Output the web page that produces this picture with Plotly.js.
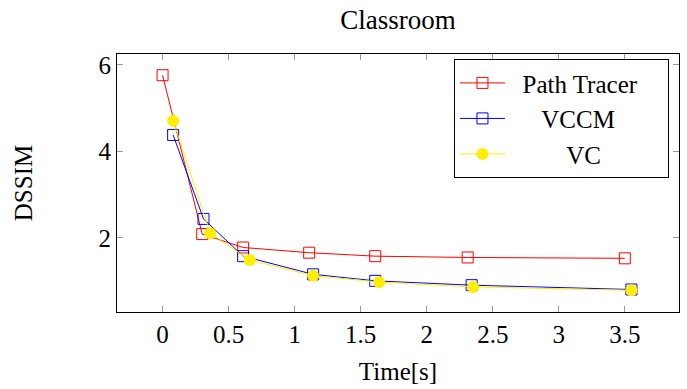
<!DOCTYPE html>
<html>
<head>
<meta charset="utf-8">
<script src="https://cdn.plot.ly/plotly-3.0.1.min.js"></script>
<style>html,body{margin:0;padding:0;background:#fff;}#chart{width:687px;height:389px;}</style>
</head>
<body>
<div id="chart"></div>
<script>
const ptTime = [0.0, 0.30, 0.61, 1.11, 1.61, 2.31, 3.50];
const ptDssim = [5.76, 2.09, 1.78, 1.66, 1.58, 1.55, 1.53];
const vccmTime = [0.08, 0.31, 0.61, 1.14, 1.61, 2.34, 3.55];
const vccmDssim = [4.38, 2.44, 1.58, 1.16, 1.01, 0.91, 0.81];
const vcTime = [0.08, 0.36, 0.66, 1.14, 1.64, 2.35, 3.55];
const vcDssim = [4.71, 2.11, 1.49, 1.13, 0.98, 0.87, 0.79];
const NB = "\u00a0";
const seriesNames = [NB.repeat(2) + "Path Tracer" + NB.repeat(4), NB.repeat(5) + "VCCM", NB.repeat(9) + "VC"];
const xTicks = [0, 0.5, 1, 1.5, 2, 2.5, 3, 3.5];
const yTicks = [2, 4, 6];

const font = "Liberation Serif, DejaVu Serif, serif";
const traces = [
  {x: ptTime, y: ptDssim, name: seriesNames[0], mode: "lines+markers",
   line: {color: "#ff0000", width: 1},
   marker: {symbol: "square-open", size: 11, color: "#ff0000", line: {width: 1}}},
  {x: vccmTime, y: vccmDssim, name: seriesNames[1], mode: "lines+markers",
   line: {color: "#0000ff", width: 1},
   marker: {symbol: "square-open", size: 11, color: "#0000ff", line: {width: 1}}},
  {x: vcTime, y: vcDssim, name: seriesNames[2], mode: "lines+markers",
   line: {color: "#ffee00", width: 1},
   marker: {symbol: "circle", size: 12, color: "#ffee00"}}
];
const layout = {
  width: 687, height: 389,
  margin: {l: 117, r: 8, t: 54, b: 77},
  paper_bgcolor: "#fff", plot_bgcolor: "#fff",
  font: {family: font, size: 25, color: "#000"},
  title: {text: "Classroom", xref: "paper", x: 0.5, xanchor: "center", y: 0.95, yanchor: "middle", font: {size: 27}},
  showlegend: true,
  legend: {x: 0.5996, y: 0.98, xanchor: "left", yanchor: "top",
    bordercolor: "#000", borderwidth: 1, bgcolor: "#fff",
    font: {size: 25}, itemwidth: 45, tracegroupgap: 0},
  xaxis: {range: [-0.345, 3.91], tickvals: xTicks, ticktext: xTicks.map(String),
    ticks: "inside", ticklen: 6, tickcolor: "#999", tickwidth: 1,
    showline: true, linecolor: "#000", linewidth: 1, mirror: "allticks",
    showgrid: false, zeroline: false, tickfont: {size: 25},
    title: {text: "Time[s]", standoff: 15, font: {size: 25}}},
  yaxis: {range: [0.29, 6.25], tickvals: yTicks, ticktext: yTicks.map(String),
    ticks: "inside", ticklen: 6, tickcolor: "#999", tickwidth: 1,
    showline: true, linecolor: "#000", linewidth: 1, mirror: "allticks",
    showgrid: false, zeroline: false, tickfont: {size: 25},
    title: {text: "DSSIM", standoff: 58, font: {size: 25}}}
};
Plotly.newPlot("chart", traces, layout, {staticPlot: true, displayModeBar: false});
</script>
</body>
</html>
